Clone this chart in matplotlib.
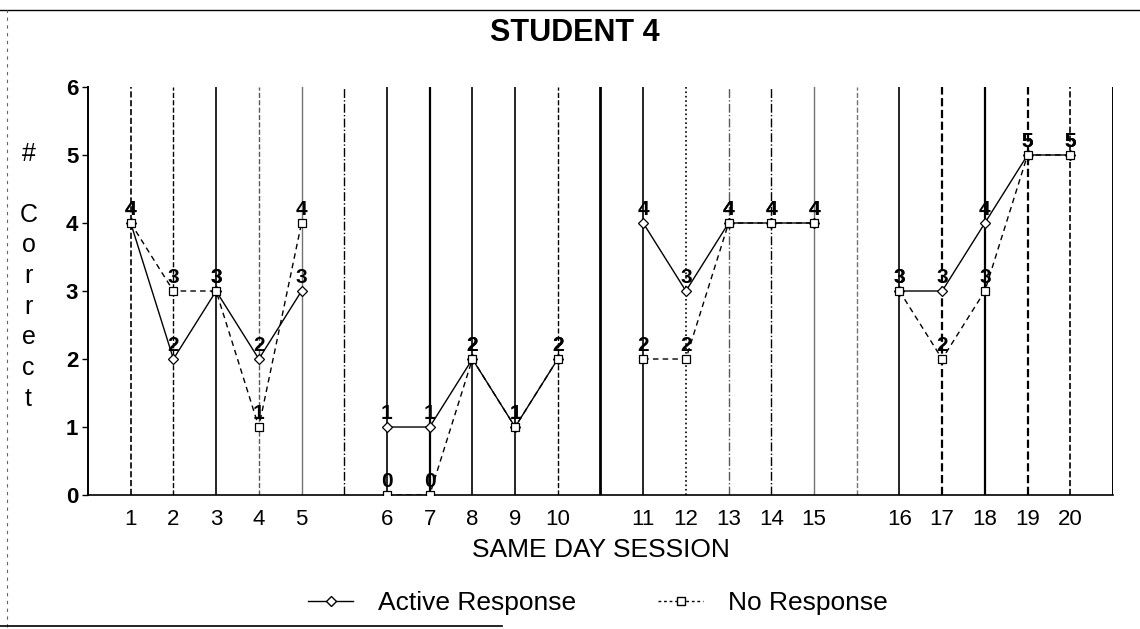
import matplotlib
matplotlib.use("Agg")
import matplotlib.pyplot as plt
from matplotlib.lines import Line2D
import numpy as np

plt.rcParams["font.family"] = ["Liberation Sans", "DejaVu Sans"]

sessions = list(range(1, 21))
active = [4, 2, 3, 2, 3, 1, 1, 2, 1, 2, 4, 3, 4, 4, 4, 3, 3, 4, 5, 5]
no_resp = [4, 3, 3, 1, 4, 0, 0, 2, 1, 2, 2, 2, 4, 4, 4, 3, 2, 3, 5, 5]
group_size = 5

# style of the vertical line at every slot (sessions and gaps between groups)
vline_styles = [('--', 'black', 1.2), ('--', 'black', 1.0), ('-', 'black', 1.2), ('--', '0.35', 1.0),
                ('-', '0.45', 1.0), ('-.', 'black', 1.0), ('-', 'black', 1.2), ('-', 'black', 1.6),
                ('-', 'black', 1.2), ('-', 'black', 1.2), ('--', 'black', 1.0), ('-', 'black', 2.0),
                ('-', 'black', 1.2), (':', 'black', 1.2), ('-.', '0.35', 1.0), ('-.', 'black', 1.0),
                ('-', '0.45', 1.0), ('--', '0.45', 1.0), ('-', 'black', 1.2), ('--', 'black', 1.6),
                ('-', 'black', 1.6), ('--', 'black', 1.6), ('--', 'black', 1.2), ('-', 'black', 1.4)]

# slot position: one blank slot after every group of five
slots = np.array([i + i // group_size for i in range(len(sessions))])

fig = plt.figure(figsize=(11.4, 6.29), dpi=100)
ax = fig.add_axes([0.0772, 0.2130, 0.8991, 0.6487])

for k, (ls, col, lw) in enumerate(vline_styles):
	ax.axvline(k, color=col, linestyle=ls, linewidth=lw, zorder=1)

for g in range(0, len(sessions), group_size):
	xs = slots[g:g + group_size]
	ax.plot(xs, active[g:g + group_size], color='black', linewidth=1.0, linestyle='-',
		marker='D', markersize=5, markerfacecolor='white', markeredgecolor='black',
		markeredgewidth=0.9, zorder=3)
	ax.plot(xs, no_resp[g:g + group_size], color='black', linewidth=1.0, linestyle=(0, (4, 3)),
		marker='s', markersize=5.5, markerfacecolor='white', markeredgecolor='black',
		markeredgewidth=0.9, zorder=3)

for x, a, n in zip(slots, active, no_resp):
	ax.annotate(str(a), (x, a), xytext=(0, 3), textcoords='offset points', ha='center',
		va='bottom', fontsize=15, fontweight='bold', zorder=4)
	ax.annotate(str(n), (x, n), xytext=(0, 3), textcoords='offset points', ha='center',
		va='bottom', fontsize=15, fontweight='bold', zorder=4)

ax.set_xlim(-1, 23)
ax.set_ylim(0, 6)
ax.set_xticks(slots)
ax.set_xticklabels([str(s) for s in sessions], fontsize=16)
ax.set_yticks(range(0, 7))
ax.set_yticklabels([str(v) for v in range(0, 7)], fontsize=16, fontweight='bold')
ax.tick_params(axis='x', length=0, pad=10)
ax.tick_params(axis='y', length=4, width=1, pad=3)
for s in ['top', 'right']:
	ax.spines[s].set_visible(False)
ax.spines['left'].set_linewidth(1.4)
ax.spines['bottom'].set_linewidth(1.2)

ax.set_xlabel('SAME DAY SESSION', fontsize=19, labelpad=6)
fig.text(0.504, 0.948, 'STUDENT 4', ha='center', va='center', fontsize=22, fontweight='bold')
fig.text(0.025, 0.561, '#\n\nC\no\nr\nr\ne\nc\nt', ha='center', va='center', fontsize=18,
	linespacing=1.35)

handles = [Line2D([], [], color='black', linewidth=1.0, marker='D', markersize=5,
		markerfacecolor='white', markeredgecolor='black'),
	Line2D([], [], color='black', linewidth=1.0, linestyle=(0, (2, 2)), marker='s', markersize=5.5,
		markerfacecolor='white', markeredgecolor='black')]
fig.legend(handles, ['Active Response', 'No Response'], loc='center', bbox_to_anchor=(0.5246, 0.041),
	ncol=2, frameon=False, fontsize=19, handlelength=1.7, columnspacing=3.1, handletextpad=0.95)

# scanned page border
fig.add_artist(Line2D([0, 1], [0.984, 0.984], color='black', linewidth=1.0))
fig.add_artist(Line2D([0.006, 0.006], [0.003, 0.984], color='0.4', linewidth=0.8, linestyle=(0, (3, 4))))
fig.add_artist(Line2D([0, 0.44], [0.004, 0.004], color='black', linewidth=1.2))

fig.savefig('out.png', dpi=100)
